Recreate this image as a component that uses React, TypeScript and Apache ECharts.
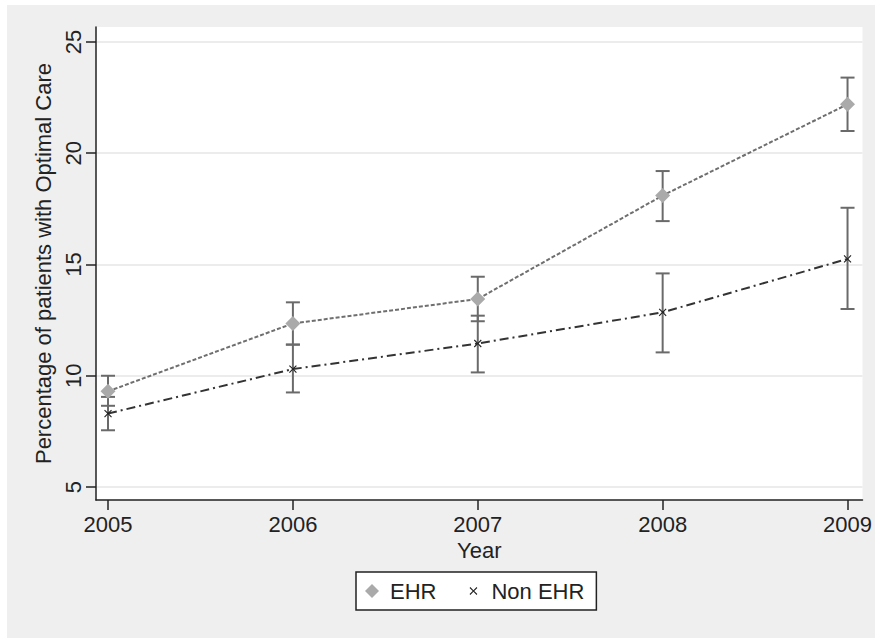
import React, { useEffect, useRef } from "react";
import * as echarts from "echarts";

// Survey years and group estimates (percent of patients receiving optimal care)
const years = [2005, 2006, 2007, 2008, 2009];
const ehrMean = [9.3, 12.35, 13.45, 18.1, 22.2];
const ehrLow = [8.65, 11.4, 12.45, 16.95, 21.0];
const ehrHigh = [10.0, 13.3, 14.45, 19.2, 23.4];
const nonMean = [8.3, 10.3, 11.45, 12.85, 15.25];
const nonLow = [7.55, 9.25, 10.15, 11.05, 13.0];
const nonHigh = [9.05, 11.4, 12.7, 14.6, 17.55];
const yTicks = [5, 10, 15, 20, 25];

const seriesNames = ["EHR", "Non EHR"];
const xTitle = "Year";
const yTitle = "Percentage of patients with Optimal Care";

// Filled "x" marker with a little padding around it
const crossIcon =
  "path://M-4,-4M0,1L1,0L5,4L9,0L10,1L6,5L10,9L9,10L5,6L1,10L0,9L4,5ZM14,14";

const FONT = "'Liberation Sans', Arial, sans-serif";
const TEXT = "#222";
const FS = 22;

const errorBars = (lo: number[], hi: number[], name: string, z: number) => ({
  type: "custom",
  name: name + " CI",
  z,
  silent: true,
  data: years.map((y, i) => [y, lo[i], hi[i]]),
  renderItem: (_params: any, api: any) => {
    const x = api.value(0);
    const pLo = api.coord([x, api.value(1)]);
    const pHi = api.coord([x, api.value(2)]);
    const w = 7;
    const style = { stroke: "#6a6a6a", lineWidth: 2 };
    return {
      type: "group",
      children: [
        { type: "line", shape: { x1: pLo[0], y1: pLo[1], x2: pHi[0], y2: pHi[1] }, style },
        { type: "line", shape: { x1: pLo[0] - w, y1: pLo[1], x2: pLo[0] + w, y2: pLo[1] }, style },
        { type: "line", shape: { x1: pHi[0] - w, y1: pHi[1], x2: pHi[0] + w, y2: pHi[1] }, style },
      ],
    };
  },
});

export default function App() {
  const ref = useRef<HTMLDivElement>(null);

  useEffect(() => {
    if (!ref.current) return;
    const chart = echarts.init(ref.current, undefined, { renderer: "svg" });
    chart.setOption({
      animation: false,
      backgroundColor: "#efefef",
      textStyle: { fontFamily: FONT },
      grid: {
        left: 89,
        right: 12,
        top: 22,
        bottom: 138,
        show: true,
        backgroundColor: "#ffffff",
        borderWidth: 0,
      },
      legend: {
        left: 349,
        top: 567,
        orient: "horizontal",
        backgroundColor: "#ffffff",
        borderColor: "#222",
        borderWidth: 1.5,
        borderRadius: 0,
        padding: [8, 12, 8, 9],
        itemWidth: 14,
        itemHeight: 14,
        itemGap: 30,
        textStyle: { fontFamily: FONT, fontSize: FS, color: TEXT, padding: [0, 0, 0, 6] },
        data: [
          { name: seriesNames[0], icon: "diamond", itemStyle: { color: "#aaaaaa" } },
          { name: seriesNames[1], icon: crossIcon, itemStyle: { color: "#222" } },
        ],
      },
      xAxis: {
        type: "value",
        min: 2004.935,
        max: 2009.081,
        name: xTitle,
        nameLocation: "middle",
        nameGap: 38,
        nameTextStyle: { fontFamily: FONT, fontSize: FS, color: TEXT },
        axisLine: { show: true, lineStyle: { color: "#222", width: 1.5 } },
        axisTick: { show: true, length: 10, lineStyle: { color: "#222", width: 1.5 }, customValues: years },
        axisLabel: {
          fontFamily: FONT,
          fontSize: FS,
          color: TEXT,
          margin: 13,
          customValues: years,
          formatter: (v: number) => String(v),
        },
        splitLine: { show: false },
      },
      yAxis: {
        type: "value",
        min: 4.416,
        max: 25.674,
        name: yTitle,
        nameLocation: "middle",
        nameGap: 42,
        nameRotate: 90,
        nameTextStyle: { fontFamily: FONT, fontSize: FS, color: TEXT },
        axisLine: { show: true, lineStyle: { color: "#222", width: 1.5 } },
        axisTick: { show: true, length: 10, lineStyle: { color: "#222", width: 1.5 }, customValues: yTicks },
        axisLabel: {
          fontFamily: FONT,
          fontSize: FS,
          color: TEXT,
          rotate: 90,
          margin: 12,
          customValues: yTicks,
        },
        splitLine: { show: true, lineStyle: { color: "#e6e6e6", width: 1.5 } },
      },
      series: [
        errorBars(ehrLow, ehrHigh, seriesNames[0], 1),
        errorBars(nonLow, nonHigh, seriesNames[1], 1),
        {
          type: "line",
          name: seriesNames[0],
          z: 3,
          data: years.map((y, i) => [y, ehrMean[i]]),
          symbol: "diamond",
          symbolSize: 15,
          itemStyle: { color: "#aaaaaa" },
          lineStyle: { color: "#6f6f6f", width: 2, type: [4, 2] },
        },
        {
          type: "line",
          name: seriesNames[1],
          z: 3,
          data: years.map((y, i) => [y, nonMean[i]]),
          symbol: crossIcon,
          symbolSize: 14,
          itemStyle: { color: "#222" },
          lineStyle: { color: "#333", width: 2, type: [9, 4, 2, 4] },
        },
      ],
    });
    return () => chart.dispose();
  }, []);

  return (
    <div
      style={{
        position: "fixed",
        left: 0,
        top: 0,
        width: 875,
        height: 638,
        background: "#ffffff",
      }}
    >
      <div
        ref={ref}
        style={{ position: "absolute", left: 7, top: 5, width: 868, height: 633 }}
      />
    </div>
  );
}
